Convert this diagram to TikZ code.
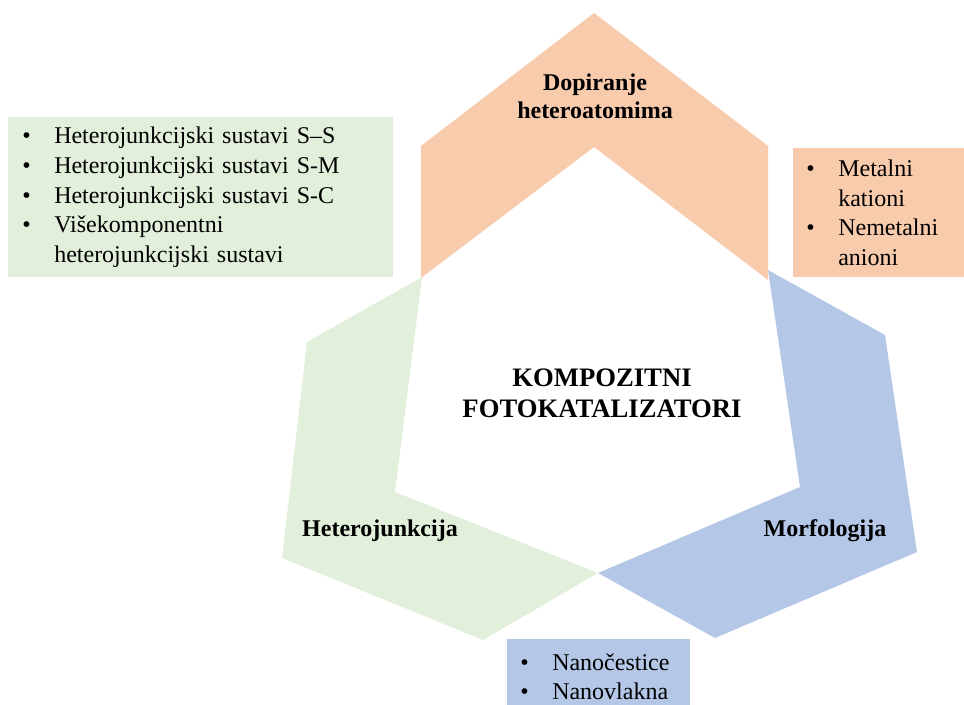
\documentclass[tikz,border=0pt]{standalone}
\usepackage{fontspec}
\setmainfont{Liberation Serif}

\definecolor{peach}{HTML}{F8CBAD}
\definecolor{sage}{HTML}{E2EFDA}
\definecolor{steel}{HTML}{B4C7E7}

\newcommand{\blt}{\makebox[24pt][l]{\textbullet}}
\newcommand{\cnt}{\hspace*{24pt}}

\begin{document}
\begin{tikzpicture}
  [x=0.75pt, y=-0.75pt,
   title/.style={font=\fontsize{20}{23.25}\selectfont\bfseries, align=center},
   heading/.style={font=\fontsize{18}{21}\selectfont\bfseries, align=center},
   listbox/.style={anchor=north west, align=left, inner ysep=0pt,
                   font=\fontsize{18}{22.2}\selectfont}]
  \useasboundingbox (0,0) rectangle (964,704);

  % the three chevrons round the centre
  \fill[sage]  (422,277) -- (307,342) -- (282,558) -- (483,640)
               -- (598,573) -- (395,492) -- cycle;
  \fill[steel] (768,270) -- (885,335) -- (917,552) -- (715,638)
               -- (598,573) -- (800,487) -- cycle;
  \fill[peach] (594,13) -- (768,146) -- (768,280) -- (594,147)
               -- (421,278) -- (421,146) -- cycle;

  \node[title] (centre) at (602,393) {KOMPOZITNI\\FOTOKATALIZATORI};
  \node[heading] (doping) at (595,96) {Dopiranje\\heteroatomima};
  \node[heading] (hetero) at (380,531) {Heterojunkcija};
  \node[heading] (morph)  at (825,531) {Morfologija};

  % lists
  \node[listbox, fill=sage, text width=267.75pt, inner xsep=10.5pt,
        minimum height=120pt] (heterolist) at (8,117)
    {\blt Heterojunkcijski sustavi S--S\\
     \blt Heterojunkcijski sustavi S-M\\
     \blt Heterojunkcijski sustavi S-C\\
     \blt Višekomponentni\\
     \cnt heterojunkcijski sustavi};
  \node[listbox, fill=peach, text width=108.75pt, inner xsep=9.75pt,
        minimum height=96.75pt] (dopinglist) at (793,148)
    {\blt Metalni\\
     \cnt kationi\\
     \blt Nemetalni\\
     \cnt anioni};
  \node[listbox, fill=steel, text width=117.75pt, inner xsep=9.75pt,
        minimum height=56.25pt] (morphlist) at (507,639)
    {\blt Nanočestice\\
     \blt Nanovlakna};
\end{tikzpicture}
\end{document}
